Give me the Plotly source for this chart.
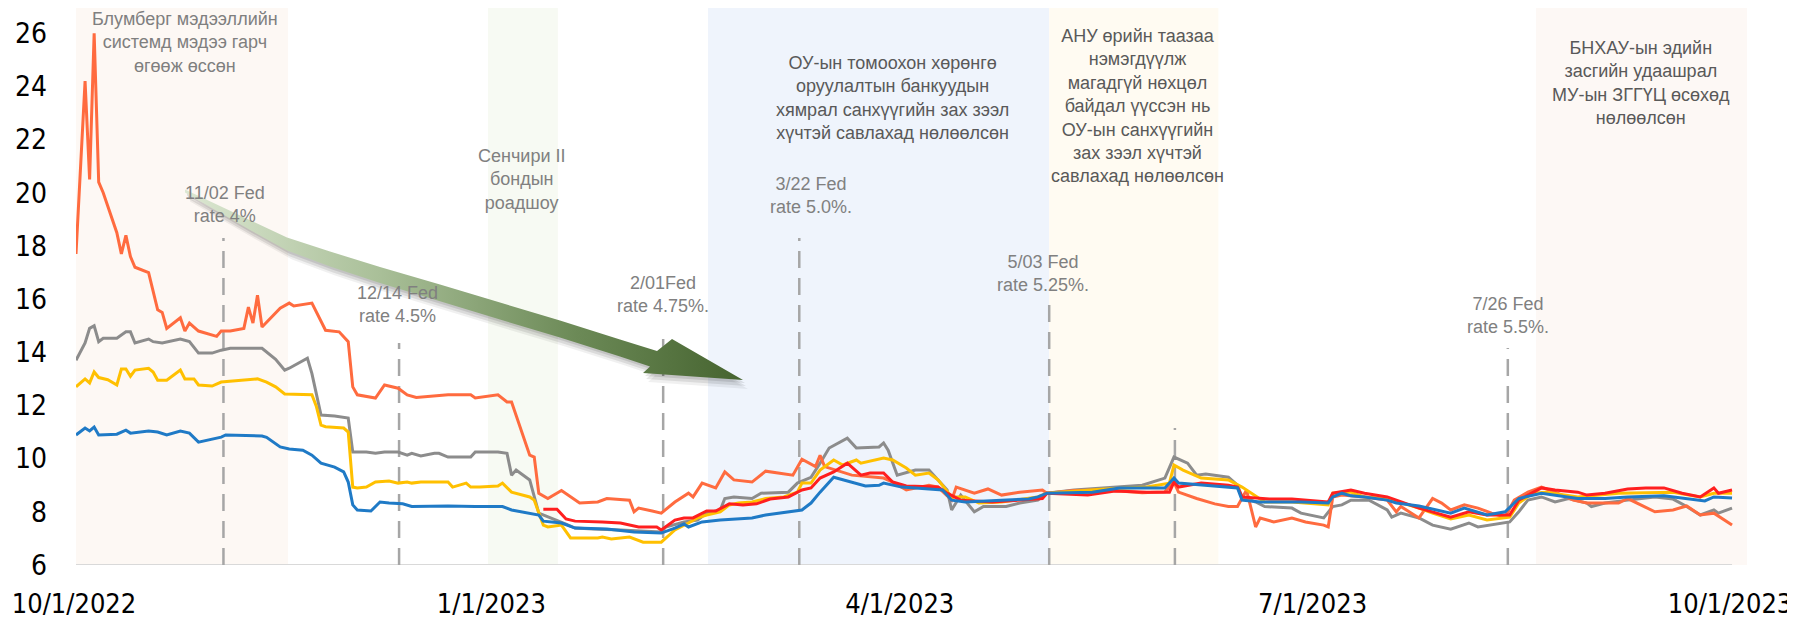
import plotly.graph_objects as go

# ---------------- data ----------------
orange_dates = ["2022-10-01","2022-10-03","2022-10-04","2022-10-05","2022-10-06","2022-10-07","2022-10-10","2022-10-11","2022-10-12","2022-10-13","2022-10-14","2022-10-17","2022-10-19","2022-10-20","2022-10-21","2022-10-24","2022-10-25","2022-10-26","2022-10-28","2022-11-01","2022-11-02","2022-11-04","2022-11-07","2022-11-08","2022-11-09","2022-11-10","2022-11-11","2022-11-15","2022-11-17","2022-11-18","2022-11-22","2022-11-25","2022-11-28","2022-11-30","2022-12-01","2022-12-02","2022-12-06","2022-12-08","2022-12-11","2022-12-13","2022-12-15","2022-12-22","2022-12-27","2022-12-28","2023-01-02","2023-01-04","2023-01-05","2023-01-09","2023-01-10","2023-01-11","2023-01-13","2023-01-16","2023-01-20","2023-01-24","2023-01-26","2023-01-30","2023-01-31","2023-02-01","2023-02-02","2023-02-05","2023-02-07","2023-02-10","2023-02-13","2023-02-14","2023-02-16","2023-02-19","2023-02-21","2023-02-23","2023-02-27","2023-03-02","2023-03-06","2023-03-08","2023-03-10","2023-03-13","2023-03-14","2023-03-15","2023-03-21","2023-03-28","2023-03-30","2023-04-02","2023-04-07","2023-04-09","2023-04-12","2023-04-13","2023-04-17","2023-04-20","2023-04-23","2023-04-27","2023-05-02","2023-05-03","2023-05-09","2023-05-15","2023-05-19","2023-05-24","2023-05-29","2023-05-31","2023-06-01","2023-06-05","2023-06-09","2023-06-12","2023-06-14","2023-06-16","2023-06-18","2023-06-19","2023-06-22","2023-06-26","2023-06-29","2023-07-03","2023-07-04","2023-07-05","2023-07-07","2023-07-12","2023-07-17","2023-07-19","2023-07-20","2023-07-24","2023-07-27","2023-07-29","2023-07-31","2023-08-03","2023-08-06","2023-08-09","2023-08-12","2023-08-14","2023-08-17","2023-08-20","2023-08-23","2023-08-27","2023-08-30","2023-09-03","2023-09-06","2023-09-08","2023-09-11","2023-09-14","2023-09-18","2023-09-21","2023-09-24","2023-09-27","2023-10-01"]
orange_values = [17.7,24.2,20.5,26.0,20.4,20.0,18.5,17.7,18.4,17.6,17.2,17.0,15.6,15.5,14.9,15.3,14.8,15.1,14.8,14.6,14.8,14.8,14.9,15.7,15.1,16.15,14.95,15.66,15.85,15.74,15.85,14.83,14.77,14.4,12.7,12.4,12.28,12.77,12.65,12.4,12.3,12.4,12.4,12.28,12.4,12.13,12.13,10.13,10.06,8.7,8.5,8.8,8.33,8.37,8.5,8.44,8.44,8.0,8.14,8.03,7.95,8.37,8.7,8.56,9.08,8.9,9.5,9.2,9.12,9.53,9.42,9.38,9.98,9.7,10.13,9.7,9.38,9.27,9.12,8.82,9.0,8.93,8.44,8.93,8.7,8.86,8.63,8.74,8.82,8.7,8.8,8.82,8.78,8.72,8.75,9.12,8.74,8.5,8.3,8.2,8.2,8.82,7.43,7.77,7.62,7.77,7.62,7.5,7.43,8.56,8.63,8.56,8.44,8.0,8.2,7.77,8.5,8.33,8.07,8.26,8.14,7.95,7.8,8.44,8.74,8.93,8.74,8.44,8.33,8.33,8.33,8.5,8.26,8.0,8.07,8.22,7.88,7.95,7.5]

gray_dates = ["2022-10-01","2022-10-03","2022-10-04","2022-10-05","2022-10-06","2022-10-07","2022-10-10","2022-10-12","2022-10-13","2022-10-14","2022-10-17","2022-10-18","2022-10-20","2022-10-24","2022-10-26","2022-10-28","2022-10-31","2022-11-02","2022-11-04","2022-11-11","2022-11-14","2022-11-16","2022-11-17","2022-11-21","2022-11-22","2022-11-23","2022-11-24","2022-11-27","2022-11-30","2022-12-01","2022-12-04","2022-12-06","2022-12-08","2022-12-11","2022-12-13","2022-12-14","2022-12-16","2022-12-19","2022-12-20","2022-12-22","2022-12-27","2022-12-28","2023-01-02","2023-01-04","2023-01-05","2023-01-06","2023-01-09","2023-01-11","2023-01-15","2023-01-17","2023-01-19","2023-01-23","2023-01-29","2023-02-02","2023-02-07","2023-02-08","2023-02-12","2023-02-15","2023-02-17","2023-02-20","2023-02-21","2023-02-23","2023-02-27","2023-03-01","2023-03-07","2023-03-09","2023-03-12","2023-03-14","2023-03-16","2023-03-20","2023-03-22","2023-03-27","2023-03-28","2023-03-29","2023-03-31","2023-04-04","2023-04-07","2023-04-09","2023-04-11","2023-04-12","2023-04-14","2023-04-17","2023-04-19","2023-04-24","2023-04-27","2023-05-01","2023-05-03","2023-05-09","2023-05-15","2023-05-24","2023-05-29","2023-05-31","2023-06-03","2023-06-05","2023-06-07","2023-06-12","2023-06-14","2023-06-15","2023-06-18","2023-06-20","2023-06-26","2023-06-28","2023-07-03","2023-07-05","2023-07-07","2023-07-09","2023-07-13","2023-07-17","2023-07-18","2023-07-20","2023-07-24","2023-07-27","2023-07-31","2023-08-04","2023-08-06","2023-08-09","2023-08-13","2023-08-15","2023-08-17","2023-08-20","2023-08-23","2023-08-26","2023-08-30","2023-08-31","2023-09-03","2023-09-08","2023-09-14","2023-09-18","2023-09-21","2023-09-24","2023-09-27","2023-09-28","2023-10-01"]
gray_values = [13.7,14.35,14.9,15.0,14.4,14.53,14.53,14.77,14.77,14.35,14.5,14.4,14.35,14.5,14.4,13.97,13.97,14.08,14.15,14.15,13.74,13.33,13.4,13.78,13.2,12.47,11.64,11.6,11.53,10.25,10.25,10.2,10.25,10.25,10.13,10.2,10.1,10.2,10.2,10.06,10.06,10.25,10.25,10.2,9.38,9.57,9.2,7.95,7.69,7.54,7.39,7.35,7.32,7.28,7.24,7.43,7.62,7.69,7.95,8.07,8.5,8.56,8.5,8.7,8.74,9.08,9.3,9.83,10.4,10.77,10.4,10.44,10.59,10.32,9.38,9.57,9.57,9.2,8.82,8.07,8.63,8.0,8.2,8.2,8.33,8.44,8.7,8.82,8.9,9.0,9.27,10.06,9.83,9.38,9.42,9.3,9.0,8.56,8.37,8.2,8.14,7.95,7.77,8.2,8.26,8.44,8.44,8.07,7.8,7.95,7.77,7.5,7.35,7.58,7.43,7.5,7.62,8.0,8.44,8.56,8.37,8.5,8.33,8.2,8.33,8.44,8.56,8.48,8.2,7.88,8.07,7.95,8.14]

yellow_dates = ["2022-10-01","2022-10-03","2022-10-04","2022-10-05","2022-10-06","2022-10-08","2022-10-10","2022-10-11","2022-10-12","2022-10-13","2022-10-14","2022-10-17","2022-10-18","2022-10-19","2022-10-21","2022-10-24","2022-10-25","2022-10-27","2022-10-28","2022-10-31","2022-11-02","2022-11-07","2022-11-10","2022-11-12","2022-11-14","2022-11-16","2022-11-22","2022-11-23","2022-11-24","2022-11-25","2022-11-29","2022-11-30","2022-12-01","2022-12-02","2022-12-04","2022-12-06","2022-12-09","2022-12-11","2022-12-13","2022-12-14","2022-12-16","2022-12-20","2022-12-22","2022-12-23","2022-12-26","2022-12-27","2022-12-29","2023-01-02","2023-01-03","2023-01-05","2023-01-09","2023-01-10","2023-01-12","2023-01-13","2023-01-16","2023-01-18","2023-01-19","2023-01-24","2023-01-25","2023-01-27","2023-01-31","2023-02-03","2023-02-07","2023-02-10","2023-02-13","2023-02-15","2023-02-17","2023-02-20","2023-02-22","2023-02-24","2023-02-27","2023-03-02","2023-03-06","2023-03-09","2023-03-10","2023-03-12","2023-03-14","2023-03-17","2023-03-19","2023-03-22","2023-03-23","2023-03-28","2023-03-30","2023-04-02","2023-04-04","2023-04-07","2023-04-09","2023-04-12","2023-04-15","2023-04-18","2023-04-23","2023-05-01","2023-05-03","2023-05-09","2023-05-15","2023-05-25","2023-05-30","2023-05-31","2023-06-02","2023-06-06","2023-06-12","2023-06-15","2023-06-17","2023-06-20","2023-06-26","2023-07-04","2023-07-05","2023-07-09","2023-07-12","2023-07-17","2023-07-24","2023-07-27","2023-07-31","2023-08-04","2023-08-08","2023-08-13","2023-08-15","2023-08-18","2023-08-21","2023-08-24","2023-08-28","2023-09-06","2023-09-14","2023-09-18","2023-09-24","2023-09-27","2023-10-01"]
yellow_values = [12.7,13.0,12.85,13.26,13.05,12.97,12.77,13.37,13.37,13.1,13.33,13.4,13.26,12.95,12.95,13.33,13.0,13.0,12.77,12.73,12.88,12.95,13.0,12.88,12.7,12.43,12.4,11.95,11.26,11.2,11.15,11.0,8.93,8.9,8.93,9.12,9.16,9.08,9.12,9.08,9.12,9.12,9.12,8.93,9.08,8.93,8.93,8.97,9.08,8.74,8.56,8.44,7.5,7.43,7.5,7.02,7.02,7.02,7.05,6.98,7.05,6.86,6.86,7.32,7.58,7.77,7.88,8.0,8.26,8.33,8.37,8.5,8.56,8.74,9.08,9.08,9.57,9.95,9.76,9.95,9.83,10.02,9.95,9.65,9.38,9.46,9.2,8.56,8.56,8.33,8.37,8.56,8.7,8.78,8.85,8.93,9.08,9.76,9.57,9.27,9.2,8.93,8.7,8.37,8.37,8.26,8.7,8.74,8.56,8.5,8.14,7.95,7.73,7.88,7.69,7.8,8.33,8.7,8.74,8.67,8.56,8.7,8.74,8.74,8.56,8.7,8.7]

red_dates = ["2023-01-12","2023-01-15","2023-01-17","2023-01-19","2023-01-25","2023-01-29","2023-02-02","2023-02-06","2023-02-07","2023-02-10","2023-02-12","2023-02-14","2023-02-17","2023-02-19","2023-02-22","2023-02-25","2023-02-28","2023-03-03","2023-03-07","2023-03-10","2023-03-12","2023-03-14","2023-03-17","2023-03-20","2023-03-23","2023-03-25","2023-03-28","2023-03-30","2023-04-02","2023-04-09","2023-04-11","2023-04-14","2023-04-21","2023-04-27","2023-05-02","2023-05-03","2023-05-12","2023-05-18","2023-05-25","2023-05-30","2023-05-31","2023-06-01","2023-06-06","2023-06-12","2023-06-14","2023-06-15","2023-06-21","2023-06-26","2023-07-04","2023-07-05","2023-07-09","2023-07-12","2023-07-17","2023-07-24","2023-07-27","2023-07-31","2023-08-04","2023-08-08","2023-08-13","2023-08-15","2023-08-20","2023-08-23","2023-08-28","2023-08-30","2023-09-03","2023-09-08","2023-09-12","2023-09-16","2023-09-20","2023-09-24","2023-09-27","2023-09-28","2023-10-01"]
red_values = [8.1,8.1,7.73,7.65,7.62,7.58,7.43,7.43,7.32,7.69,7.77,7.77,8.03,8.03,8.3,8.26,8.3,8.48,8.56,8.82,8.9,9.27,9.5,9.83,9.38,9.46,9.46,9.12,8.97,8.93,8.7,8.44,8.37,8.44,8.5,8.7,8.63,8.78,8.74,8.74,9.12,8.93,9.08,9.0,8.93,8.56,8.48,8.48,8.37,8.7,8.82,8.7,8.56,8.14,8.0,7.8,8.0,7.88,7.88,8.44,8.9,8.82,8.74,8.63,8.7,8.86,8.9,8.9,8.7,8.56,8.9,8.7,8.82]

blue_dates = ["2022-10-01","2022-10-03","2022-10-04","2022-10-05","2022-10-06","2022-10-10","2022-10-12","2022-10-13","2022-10-17","2022-10-19","2022-10-21","2022-10-24","2022-10-26","2022-10-28","2022-11-02","2022-11-03","2022-11-11","2022-11-12","2022-11-15","2022-11-17","2022-11-20","2022-11-22","2022-11-24","2022-11-27","2022-11-29","2022-11-30","2022-12-01","2022-12-02","2022-12-05","2022-12-07","2022-12-09","2022-12-12","2022-12-14","2022-12-22","2022-12-28","2023-01-03","2023-01-05","2023-01-09","2023-01-11","2023-01-12","2023-01-16","2023-01-19","2023-01-26","2023-02-01","2023-02-07","2023-02-10","2023-02-12","2023-02-13","2023-02-16","2023-02-20","2023-02-27","2023-03-02","2023-03-07","2023-03-10","2023-03-12","2023-03-14","2023-03-17","2023-03-21","2023-03-24","2023-03-27","2023-03-28","2023-04-01","2023-04-08","2023-04-10","2023-04-12","2023-04-15","2023-04-23","2023-04-29","2023-05-01","2023-05-03","2023-05-13","2023-05-19","2023-05-29","2023-05-31","2023-06-01","2023-06-06","2023-06-12","2023-06-14","2023-06-15","2023-06-19","2023-06-28","2023-07-04","2023-07-05","2023-07-07","2023-07-09","2023-07-12","2023-07-17","2023-07-19","2023-07-24","2023-07-26","2023-07-31","2023-08-03","2023-08-08","2023-08-12","2023-08-15","2023-08-20","2023-08-23","2023-08-28","2023-09-03","2023-09-08","2023-09-16","2023-09-21","2023-09-25","2023-09-27","2023-10-01"]
blue_values = [10.89,11.15,11.04,11.19,10.89,10.92,11.07,10.96,11.04,11.0,10.89,11.04,10.96,10.62,10.81,10.89,10.85,10.8,10.44,10.36,10.32,10.13,9.83,9.68,9.5,9.12,8.26,8.07,8.03,8.37,8.33,8.3,8.2,8.22,8.2,8.2,8.07,7.95,7.88,7.65,7.58,7.39,7.35,7.24,7.2,7.39,7.54,7.43,7.62,7.69,7.77,7.88,8.0,8.07,8.33,8.74,9.3,9.12,8.97,9.0,9.08,8.93,8.86,8.82,8.44,8.37,8.44,8.48,8.56,8.7,8.74,8.9,8.9,9.27,9.08,9.0,8.93,8.9,8.44,8.37,8.37,8.33,8.56,8.7,8.6,8.56,8.44,8.33,8.22,8.14,7.95,8.14,7.88,8.0,8.5,8.7,8.63,8.5,8.5,8.56,8.6,8.48,8.41,8.56,8.52]

x_tick_vals = ["2022-10-01", "2023-01-01", "2023-04-01", "2023-07-01", "2023-10-01"]
x_tick_text = ["10/1/2022", "1/1/2023", "4/1/2023", "7/1/2023", "10/1/2023"]
y_tick_vals = [6, 8, 10, 12, 14, 16, 18, 20, 22, 24, 26]

# Fed decision markers (dashed lines) and their labels
event_dates = ["2022-11-02 12:00", "2022-12-11 05:00", "2023-02-07 10:00", "2023-03-09 10:00",
               "2023-05-03 12:00", "2023-05-31 05:00", "2023-08-12 14:00"]
event_tops = [18.3, 14.35, 14.5, 18.3, 15.85, 11.15, 14.16]

fed_label_dates = ["2022-11-02 20:00", "2022-12-10 18:00", "2023-02-07 10:00", "2023-03-12 00:00",
                   "2023-05-02 03:00", "2023-08-12 14:00"]
fed_label_y = [19.55, 15.79, 16.16, 19.89, 16.95, 15.39]
fed_label_text = ["11/02 Fed<br>rate 4%", "12/14 Fed<br>rate 4.5%", "2/01Fed<br>rate 4.75%.",
                  "3/22 Fed<br>rate 5.0%.", "5/03 Fed<br>rate 5.25%.", "7/26 Fed<br>rate 5.5%."]

# Shaded periods
period_starts = ["2022-10-01", "2022-12-30 19:00", "2023-02-17 07:00", "2023-05-03 12:00", "2023-08-18 19:00"]
period_ends = ["2022-11-16 17:00", "2023-01-15 05:00", "2023-05-03 12:00", "2023-06-09 19:00", "2023-10-04 07:00"]
period_colors = ["#FDF8F4", "#F7FAF3", "#EFF4FC", "#FFFBF2", "#FDF8F5"]

note_dates = ["2022-10-25 00:00", "2023-01-07 07:00", "2023-03-30 00:00", "2023-05-23 00:00", "2023-09-11 00:00"]
note_y = [25.67, 20.49, 23.58, 23.26, 24.12]
note_text = [
    "Блумберг мэдээллийн<br>системд мэдээ гарч<br>өгөөж өссөн",
    "Сенчири II<br>бондын<br>роадшоу",
    "ОУ-ын томоохон хөрөнгө<br>оруулалтын банкуудын<br>хямрал санхүүгийн зах зээл<br>хүчтэй савлахад нөлөөлсөн",
    "АНУ өрийн таазаа<br>нэмэгдүүлж<br>магадгүй нөхцөл<br>байдал үүссэн нь<br>ОУ-ын санхүүгийн<br>зах зээл хүчтэй<br>савлахад нөлөөлсөн",
    "БНХАУ-ын эдийн<br>засгийн удаашрал<br>МУ-ын ЗГГҮЦ өсөхөд<br>нөлөөлсөн",
]
note_colors = ["#7F7F7F", "#808080", "#595959", "#595959", "#595959"]

# ---------------- figure ----------------
# the page body has an 8px default margin, so the figure is sized 16px smaller
W, H = 1787, 612
ML, MR, MT, MB = 68, 48, 0, 55

fig = go.Figure()

series = [
    (gray_dates, gray_values, "#8C8C8C"),
    (orange_dates, orange_values, "#FF6B3F"),
    (yellow_dates, yellow_values, "#FFC000"),
    (red_dates, red_values, "#FF1F1F"),
    (blue_dates, blue_values, "#1F7AC6"),
]
for d, v, c in series:
    fig.add_trace(go.Scatter(x=d, y=v, mode="lines", line=dict(color=c, width=3),
                             showlegend=False, hoverinfo="skip"))

# Decorative trend arrow drawn in page-pixel space on an overlay axis pair
arrow_top = [(185, 189.5), (200, 196.5), (220, 205.5), (250, 220), (287, 237.5), (330, 251.5),
             (380, 267), (440, 284.5), (500, 302.5), (560, 320.5), (620, 339.5), (657, 351)]
arrow_head = [(672, 339), (743, 380), (643, 373)]
arrow_bottom = [(650, 366.5), (620, 356.5), (560, 337.5), (500, 319.5), (440, 301.5), (380, 283),
                (330, 266.5), (287, 250.5), (250, 230), (220, 212.5), (200, 201.5), (185, 192.5)]
poly = arrow_top + arrow_head + arrow_bottom + [arrow_top[0]]
ax_ = [p[0] for p in poly]
ay_ = [p[1] for p in poly]
for dx, dy, a in [(5, 9, 0.06), (3, 6, 0.09), (2, 3, 0.10)]:
    fig.add_trace(go.Scatter(x=[v + dx for v in ax_], y=[v + dy for v in ay_], xaxis="x2", yaxis="y2",
                             mode="lines", fill="toself", fillcolor=f"rgba(0,0,0,{a})",
                             line=dict(width=0), showlegend=False, hoverinfo="skip"))
fig.add_trace(go.Scatter(x=ax_, y=ay_, xaxis="x2", yaxis="y2", mode="lines", fill="toself",
                         fillgradient=dict(type="horizontal",
                                           colorscale=[[0, "#DCE7D2"], [0.35, "#A9BF98"],
                                                       [0.7, "#6C8A57"], [1, "#45632F"]]),
                         line=dict(width=0), showlegend=False, hoverinfo="skip"))

shapes = []
for s, e, c in zip(period_starts, period_ends, period_colors):
    shapes.append(dict(type="rect", xref="x", yref="paper", x0=s, x1=e, y0=0, y1=1,
                       fillcolor=c, line=dict(width=0), layer="below"))
shapes.append(dict(type="line", xref="x", yref="y", x0=x_tick_vals[0], x1=x_tick_vals[-1], y0=6, y1=6,
                   line=dict(color="#D9D9D9", width=2), layer="below"))
for d, top in zip(event_dates, event_tops):
    shapes.append(dict(type="line", xref="x", yref="y", x0=d, x1=d, y0=6, y1=top,
                       line=dict(color="#A6A6A6", width=2.5, dash="17px,10px"), layer="below"))

annotations = []
for d, y, t in zip(fed_label_dates, fed_label_y, fed_label_text):
    annotations.append(dict(x=d, y=y, xref="x", yref="y", text=t, showarrow=False,
                            xanchor="center", yanchor="middle", align="center",
                            font=dict(family="Liberation Sans, Arial", size=18, color="#808080")))
for d, y, t, c in zip(note_dates, note_y, note_text, note_colors):
    annotations.append(dict(x=d, y=y, xref="x", yref="y", text=t, showarrow=False,
                            xanchor="center", yanchor="middle", align="center",
                            font=dict(family="Liberation Sans, Arial", size=18, color=c)))

y_tick_font = dict(family="DejaVu Sans Condensed, Liberation Sans Narrow, sans-serif", size=28, color="#000000")
x_tick_font = dict(family="DejaVu Sans Condensed, Liberation Sans Narrow, sans-serif", size=27, color="#000000")

fig.update_layout(
    width=W, height=H,
    margin=dict(l=ML, r=MR, t=MT, b=MB),
    paper_bgcolor="white", plot_bgcolor="white",
    showlegend=False,
    shapes=shapes,
    annotations=annotations,
    xaxis=dict(type="date", range=["2022-10-01", "2023-10-04 07:12"], tickvals=x_tick_vals,
               ticktext=x_tick_text, showgrid=False, zeroline=False, showline=False,
               ticks="", tickfont=x_tick_font, ticklabelstandoff=20, ticklabelshift=-2,
               ticklabeloverflow="allow", automargin=False, fixedrange=True),
    yaxis=dict(range=[6, 26.95], tickvals=y_tick_vals, showgrid=False, zeroline=False, showline=False,
               ticks="", tickfont=y_tick_font, ticklabelstandoff=28, automargin=False, fixedrange=True),
    xaxis2=dict(overlaying="x", range=[ML + 8, W + 8 - MR], visible=False, fixedrange=True),
    yaxis2=dict(overlaying="y", range=[H + 8 - MB, MT + 8], visible=False, fixedrange=True),
)

fig.write_html("out.html")
